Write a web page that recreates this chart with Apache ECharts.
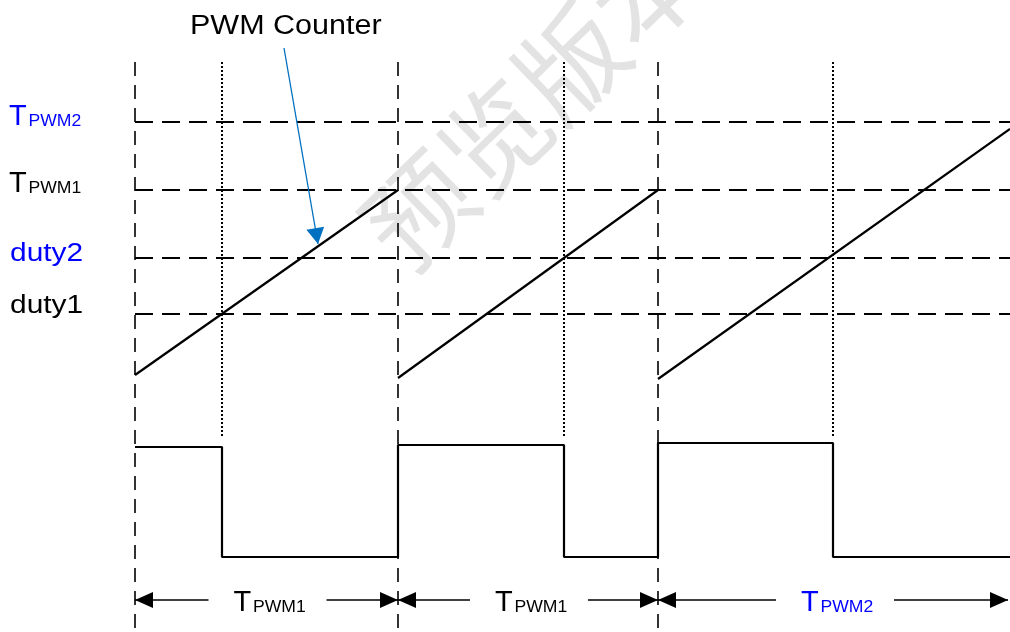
<!DOCTYPE html>
<html>
<head>
<meta charset="utf-8">
<script src="https://cdn.jsdelivr.net/npm/echarts@6/dist/echarts.min.js"></script>
<style>
  html, body { margin: 0; padding: 0; background: #fff; }
  #main { width: 1010px; height: 632px; }
</style>
</head>
<body>
<div id="main"></div>
<script>
// x = time (0 at the first counter reset), y = counter / signal level
var periodEdges = [0, 263, 523, 875];
var periodSubs = ['PWM1', 'PWM1', 'PWM2'];
var matchTimes = [87, 429, 698];
var levelNames = ['TPWM2', 'TPWM1', 'duty2', 'duty1'];
var levelValues = [510, 442, 374, 318];
var counterStart = [257, 254, 253];
var counterEnd = [442, 442, 503];
var pwmHigh = [185, 187, 189];
var pwmLow = 75;
var guideTop = 570;
var matchBottom = 195;
var dimLevel = 32;
var calloutFrom = [149, 584];
var calloutTo = [183, 388];

var BLUE = '#0000ff';
var FONT = '"Liberation Sans", Arial, sans-serif';

var chartDom = document.getElementById('main');
var myChart = echarts.init(chartDom);

// counter ramps, one per period
var rampSeries = [];
for (var i = 0; i < 3; i++) {
  rampSeries.push({
    type: 'line',
    symbol: 'none',
    silent: true,
    data: [[periodEdges[i], counterStart[i]], [periodEdges[i + 1], counterEnd[i]]],
    lineStyle: { color: '#000', width: 2.2 },
    z: 3
  });
}

// PWM output
var pwmData = [];
for (var i = 0; i < 3; i++) {
  pwmData.push([periodEdges[i], pwmHigh[i]]);
  pwmData.push([matchTimes[i], pwmHigh[i]]);
  pwmData.push([matchTimes[i], pwmLow]);
  pwmData.push([periodEdges[i + 1], pwmLow]);
}

var marks = [];
// horizontal compare levels
levelValues.forEach(function (v) {
  marks.push([
    { coord: [periodEdges[0], v], symbol: 'none', lineStyle: { color: '#000', width: 2.2, type: [18, 9] } },
    { coord: [periodEdges[3], v], symbol: 'none' }
  ]);
});
// period boundaries
periodEdges.slice(0, 3).forEach(function (t) {
  marks.push([
    { coord: [t, guideTop], symbol: 'none', lineStyle: { color: '#000', width: 1.6, type: [14, 9] } },
    { coord: [t, 0], symbol: 'none' }
  ]);
});
// compare match instants
matchTimes.forEach(function (t) {
  marks.push([
    { coord: [t, guideTop], symbol: 'none', lineStyle: { color: '#000', width: 2, type: [2, 2] } },
    { coord: [t, matchBottom], symbol: 'none' }
  ]);
});
// period dimension arrows (gap in the middle for the label)
var GAP = 58;
for (var i = 0; i < 3; i++) {
  var a = periodEdges[i], b = periodEdges[i + 1] - (i === 2 ? 2 : 0);
  var mid = (periodEdges[i] + periodEdges[i + 1]) / 2;
  marks.push([
    { coord: [mid - GAP, dimLevel], symbol: 'none', lineStyle: { color: '#000', width: 1.6, type: 'solid' } },
    { coord: [a, dimLevel], symbol: 'triangle', symbolSize: [16, 18], symbolOffset: [0, 9] }
  ]);
  marks.push([
    { coord: [mid + GAP + 2, dimLevel], symbol: 'none', lineStyle: { color: '#000', width: 1.6, type: 'solid' } },
    { coord: [b, dimLevel], symbol: 'triangle', symbolSize: [16, 18], symbolOffset: [0, 9] }
  ]);
}
// callout arrow
marks.push([
  { coord: calloutFrom, symbol: 'none', lineStyle: { color: '#0070c0', width: 1.3, type: 'solid' } },
  { coord: calloutTo, symbol: 'triangle', symbolSize: [18, 16], symbolOffset: [0, 8] }
]);

var option = {
  backgroundColor: '#fff',
  animation: false,
  grid: { left: 0, right: 0, top: 0, bottom: 0 },
  xAxis: { type: 'value', min: -135, max: 875, show: false },
  yAxis: { type: 'value', min: 0, max: 632, show: false },
  series: rampSeries.concat([
    {
      type: 'line',
      symbol: 'none',
      silent: true,
      data: pwmData,
      lineStyle: { color: '#000', width: 2.2 },
      z: 3
    },
    {
      type: 'line',
      symbol: 'none',
      silent: true,
      data: [],
      markLine: {
        silent: true,
        animation: false,
        label: { show: false },
        emphasis: { disabled: true },
        itemStyle: { color: '#000' },
        data: marks
      },
      z: 2
    }
  ])
};
option && myChart.setOption(option);

// texts (Arial-like, drawn slightly wide as in the source drawing)
function plainText(left, base, text, size, color, sx) {
  return {
    type: 'text', x: left, y: base - 0.3465 * size, scaleX: sx, z: 10,
    style: { text: text, font: size + 'px ' + FONT, fill: color, verticalAlign: 'middle' }
  };
}
function tLabel(left, base, sub, color) {
  return {
    type: 'group', x: left, y: base, z: 10,
    children: [
      { type: 'text', x: 0, y: -0.3465 * 29, style: { text: 'T', font: '29px ' + FONT, fill: color, verticalAlign: 'middle' } },
      { type: 'text', x: 19.5, y: -0.3465 * 16, scaleX: 1.1, style: { text: sub, font: '16px ' + FONT, fill: color, verticalAlign: 'middle' } }
    ]
  };
}

var graphics = [
  {
    type: 'text', x: 533, y: 100, rotation: 0.77, z: -5,
    style: { text: '预览版本', font: '106px "Noto Sans CJK SC"', fill: '#e3e3e3', align: 'center', verticalAlign: 'middle' }
  },
  plainText(190, 36, 'PWM Counter', 27, '#000', 1.13),
  tLabel(9, 127, 'PWM2', BLUE),
  tLabel(9, 194, 'PWM1', '#000'),
  plainText(10, 263, 'duty2', 26, BLUE, 1.15),
  plainText(10, 315, 'duty1', 26, '#000', 1.15)
];
for (var i = 0; i < 3; i++) {
  var midPx = myChart.convertToPixel({ xAxisIndex: 0 }, (periodEdges[i] + periodEdges[i + 1]) / 2);
  var basePx = myChart.convertToPixel({ yAxisIndex: 0 }, dimLevel) + 13;
  graphics.push(tLabel(midPx - 33, basePx, periodSubs[i], periodSubs[i] === 'PWM2' ? BLUE : '#000'));
}
myChart.setOption({ graphic: graphics });
</script>
</body>
</html>
